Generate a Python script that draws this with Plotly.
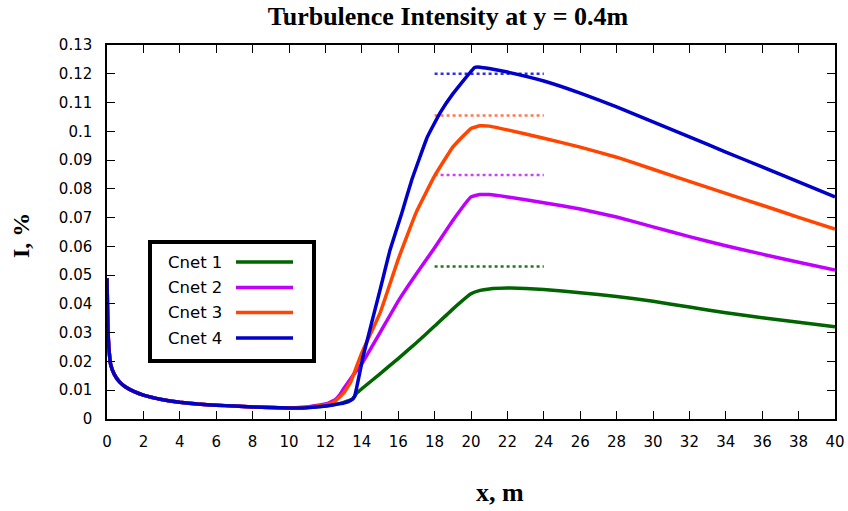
import plotly.graph_objects as go

# ---------------- data ----------------
series_names = ["Cnet 1", "Cnet 2", "Cnet 3", "Cnet 4"]

x_c1 = [0, 0.05, 0.1, 0.2, 0.4, 0.7, 1, 1.5, 2, 3, 4, 5, 6, 7, 8, 9, 10, 11, 12, 12.5, 13, 13.5,
        13.7, 14, 15, 16, 17, 18, 19, 20, 20.5, 21, 22, 23, 24, 26, 28, 30, 32, 34, 36, 38, 40]
y_c1 = [0.049, 0.031, 0.025, 0.019, 0.0155, 0.0128, 0.0112, 0.0095, 0.0083, 0.0068, 0.0058, 0.0052,
        0.0048, 0.0045, 0.0042, 0.0040, 0.0038, 0.0040, 0.0045, 0.0050, 0.0058, 0.0070,
        0.0088, 0.0105, 0.0157, 0.0210, 0.0265, 0.0323, 0.0382, 0.0435, 0.0447, 0.0452, 0.0455,
        0.0454, 0.0450, 0.0439, 0.0426, 0.0409, 0.0389, 0.0369, 0.0352, 0.0336, 0.0321]

x_c2 = [0, 0.05, 0.1, 0.2, 0.4, 0.7, 1, 1.5, 2, 3, 4, 5, 6, 7, 8, 9, 10, 11, 12, 12.5, 12.8, 13,
        13.5, 14, 15, 16, 17, 18, 19, 20, 20.5, 21, 22, 24, 26, 28, 30, 32, 34, 36, 38, 40]
y_c2 = [0.049, 0.031, 0.025, 0.019, 0.0155, 0.0128, 0.0112, 0.0095, 0.0083, 0.0068, 0.0058, 0.0052,
        0.0048, 0.0045, 0.0042, 0.0040, 0.0039, 0.0042, 0.0052, 0.0065, 0.0085, 0.0105,
        0.0150, 0.0192, 0.0300, 0.0410, 0.0505, 0.0595, 0.0690, 0.0772, 0.0780, 0.0780, 0.0772,
        0.0752, 0.0730, 0.0702, 0.0668, 0.0634, 0.0602, 0.0573, 0.0545, 0.0518]

x_c3 = [0, 0.05, 0.1, 0.2, 0.4, 0.7, 1, 1.5, 2, 3, 4, 5, 6, 7, 8, 9, 10, 11, 12, 12.5, 13, 13.4,
        13.7, 14, 15, 16, 17, 18, 19, 20, 20.5, 21, 22, 24, 26, 28, 30, 32, 34, 36, 38, 40]
y_c3 = [0.049, 0.031, 0.025, 0.019, 0.0155, 0.0128, 0.0112, 0.0095, 0.0083, 0.0068, 0.0058, 0.0052,
        0.0048, 0.0045, 0.0042, 0.0040, 0.0038, 0.0041, 0.0049, 0.0060, 0.0090, 0.0130,
        0.0180, 0.0230, 0.0368, 0.0555, 0.0720, 0.0845, 0.0945, 0.1010, 0.1019, 0.1018, 0.1005,
        0.0976, 0.0945, 0.0910, 0.0868, 0.0826, 0.0784, 0.0743, 0.0701, 0.0660]

x_c4 = [0, 0.05, 0.1, 0.2, 0.4, 0.7, 1, 1.5, 2, 3, 4, 5, 6, 7, 8, 9, 10, 11, 12, 12.5, 13, 13.4,
        13.6, 14.07, 15, 15.55, 16.2, 16.74, 17.6, 18.3, 19, 20.2, 20.5, 21, 22, 24, 26, 28, 30, 32,
        34, 36, 38, 40]
y_c4 = [0.049, 0.031, 0.025, 0.019, 0.0155, 0.0128, 0.0112, 0.0095, 0.0083, 0.0068, 0.0058, 0.0052,
        0.0048, 0.0045, 0.0042, 0.0040, 0.0038, 0.0039, 0.0045, 0.0050, 0.0055, 0.0065,
        0.0078, 0.0217, 0.0448, 0.0587, 0.0716, 0.0830, 0.0980, 0.1064, 0.1130, 0.1222, 0.1223,
        0.1218, 0.1206, 0.1175, 0.1133, 0.1085, 0.1033, 0.0981, 0.0928, 0.0876, 0.0824, 0.0772]

# dotted reference levels (x range 18..24)
ref_x = [18, 24]
ref_levels = [0.0530, 0.0848, 0.1055, 0.1200]

x_ticks = list(range(0, 41, 2))
y_ticks = [round(0.01 * i, 2) for i in range(0, 14)]
y_tick_text = ["0", "0.01", "0.02", "0.03", "0.04", "0.05", "0.06", "0.07", "0.08", "0.09",
               "0.1", "0.11", "0.12", "0.13"]

# ---------------- style ----------------
colors = ["#006400", "#c000ff", "#ff4500", "#0000c8"]
ref_colors = ["#1e7a1e", "#d040ff", "#ff7850", "#3030e0"]

xs = [x_c1, x_c2, x_c3, x_c4]
ys = [y_c1, y_c2, y_c3, y_c4]

fig = go.Figure()

for i in range(4):
    fig.add_trace(go.Scatter(x=ref_x, y=[ref_levels[i]] * 2, mode="lines",
                             line=dict(color=ref_colors[i], width=2.4, dash="dot"),
                             showlegend=False, hoverinfo="skip"))

for i in range(4):
    fig.add_trace(go.Scatter(x=xs[i], y=ys[i], mode="lines", name=series_names[i],
                             line=dict(color=colors[i], width=3.5, shape="spline", smoothing=0.3),
                             showlegend=False))

W, H = 848, 511
L, R, T, B = 107, 13, 45, 92
pw, ph = W - L - R, H - T - B


def px(xp):
    return (xp - L) / pw


def py(yp):
    return (H - B - yp) / ph


# manual legend (text left, line sample right)
fig.add_shape(type="rect", xref="paper", yref="paper",
              x0=px(150), x1=px(314), y0=py(242), y1=py(361),
              line=dict(color="black", width=4), fillcolor="white", layer="above")
rows = [262, 287.5, 312.5, 338]
for i in range(4):
    fig.add_shape(type="line", xref="paper", yref="paper",
                  x0=px(236), x1=px(293), y0=py(rows[i]), y1=py(rows[i]),
                  line=dict(color=colors[i], width=3.5), layer="above")
    fig.add_annotation(x=px(166), y=py(rows[i]), xref="paper", yref="paper",
                       text=series_names[i], showarrow=False, xanchor="left", yanchor="middle",
                       font=dict(family="DejaVu Sans", size=16.5, color="black"))

# axis titles
fig.add_annotation(x=px(500), y=py(492), xref="paper", yref="paper", text="<b>x, m</b>",
                   showarrow=False, xanchor="center", yanchor="middle",
                   font=dict(family="Liberation Serif", size=26, color="black"))
fig.add_annotation(x=px(21), y=py(236), xref="paper", yref="paper", text="<b>I, %</b>",
                   showarrow=False, xanchor="center", yanchor="middle", textangle=-90,
                   font=dict(family="Liberation Serif", size=24, color="black"))

axis_common = dict(showline=True, linecolor="black", linewidth=1.5, mirror="allticks",
                   ticks="inside", ticklen=8, tickwidth=1.2, tickcolor="black",
                   showgrid=False, zeroline=False, automargin=False,
                   tickfont=dict(family="DejaVu Sans", size=15, color="black"))

fig.update_layout(
    width=W, height=H,
    margin=dict(l=L, r=R, t=T, b=B, autoexpand=False),
    paper_bgcolor="white", plot_bgcolor="white",
    title=dict(text="<b>Turbulence Intensity at y = 0.4m</b>", x=px(448), xref="paper",
               y=1 - 16 / H, yref="container", xanchor="center", yanchor="middle",
               font=dict(family="Liberation Serif", size=26, color="black")),
    xaxis=dict(range=[0, 40], tickvals=x_ticks, ticklabelstandoff=8, **axis_common),
    yaxis=dict(range=[0, 0.13], tickvals=y_ticks, ticktext=y_tick_text,
               ticklabelstandoff=10, **axis_common),
    showlegend=False,
)

fig.write_html("out.html")
